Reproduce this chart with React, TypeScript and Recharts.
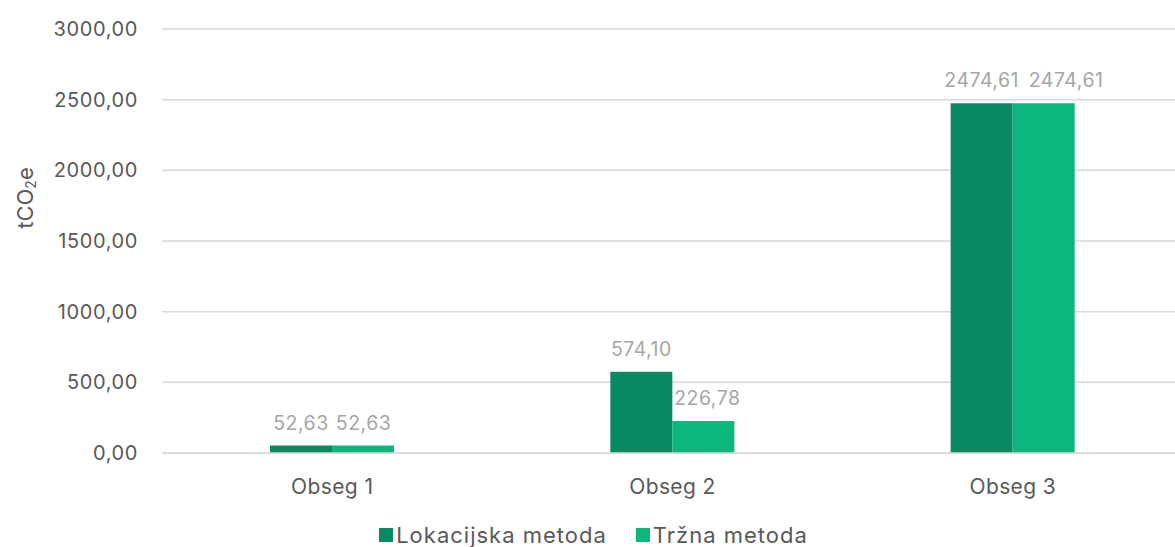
import React from 'react'
import { BarChart, Bar, XAxis, YAxis, CartesianGrid, Legend, LabelList } from 'recharts'

const categories = ['Obseg 1', 'Obseg 2', 'Obseg 3']
const lokacijska = [52.63, 574.1, 2474.61]
const trzna = [52.63, 226.78, 2474.61]
const yTicks = [0, 500, 1000, 1500, 2000, 2500, 3000]

const DARK = '#0a8a62'
const LIGHT = '#0db57f'
const FONT = 'Inter, "Open Sans", "Noto Sans", sans-serif'
const LABEL_SIZE = 19.5

const data = categories.map((name, i) => ({ name, lok: lokacijska[i], trz: trzna[i] }))

const fmt = (v: number) => v.toFixed(2).replace('.', ',')

// rough text width for the value labels, used to push overlapping labels apart
const textWidth = (s: string) => s.length * LABEL_SIZE * 0.56

function ValueLabel(props: any) {
  const { x, y, width, value, index, series } = props
  const text = fmt(Number(value))
  let cx = x + width / 2
  if (series === 'trz') {
    // Excel nudges the right label aside when it would collide with its neighbour
    const other = lokacijska[index]
    const near = Math.abs(other - Number(value)) < 150
    const need = textWidth(fmt(other)) / 2 + textWidth(text) / 2 + 8
    if (near && need > width) cx = x - width / 2 + need
    else if (!near) cx += 4
  }
  return (
    <text x={cx} y={y - 16} textAnchor="middle" fill="#a6a6a6" fontSize={LABEL_SIZE}
      fontFamily={FONT} letterSpacing={0.5}>
      {text}
    </text>
  )
}

function YTitle() {
  const x = 25
  const y = 198
  return (
    <text x={x} y={y} transform={`rotate(-90 ${x} ${y})`} textAnchor="middle" dominantBaseline="central"
      fill="#595959" fontSize={22} fontFamily={FONT}>
      tCO<tspan fontSize={14} dy={5}>2</tspan><tspan dy={-5}>e</tspan>
    </text>
  )
}

function LegendBox() {
  const items = [
    { label: 'Lokacijska metoda', color: DARK },
    { label: 'Tržna metoda', color: LIGHT },
  ]
  return (
    <div style={{ display: 'flex', justifyContent: 'center', alignItems: 'center', gap: 29, height: 34, paddingTop: 10, boxSizing: 'border-box', fontFamily: FONT, fontSize: 22, letterSpacing: 1, color: '#595959', paddingLeft: 12 }}>
      {items.map(it => (
        <span key={it.label} style={{ display: 'inline-flex', alignItems: 'center', gap: 3 }}>
          <span style={{ width: 14, height: 14, background: it.color, display: 'inline-block' }} />
          {it.label}
        </span>
      ))}
    </div>
  )
}

export default function App() {
  return (
    <div style={{ position: 'absolute', left: 0, top: 0, width: 1175, height: 547, overflow: 'hidden', background: '#fff' }}>
      <BarChart width={1183} height={547} data={data} barGap={0} barSize={62}
        margin={{ top: 29, right: 0, left: 0, bottom: 0 }}>
        <CartesianGrid vertical={false} stroke="#d9d9d9" strokeWidth={1.5} />
        <XAxis dataKey="name" height={60} tickLine={false} axisLine={{ stroke: '#d9d9d9', strokeWidth: 1.5 }}
          tickSize={0} tickMargin={26}
          tick={{ fill: '#595959', fontSize: 21, fontFamily: FONT, letterSpacing: 0.4 }} />
        <YAxis width={162} domain={[0, 3000]} ticks={yTicks} interval={0} tickLine={false} axisLine={false}
          tickSize={0} tickMargin={24} tickFormatter={fmt}
          tick={{ fill: '#595959', fontSize: 20, fontFamily: FONT, letterSpacing: 0.6 }}
          label={<YTitle />} />
        <Legend verticalAlign="bottom" content={<LegendBox />} wrapperStyle={{ left: 0, width: 1175, bottom: 0 }} />
        <Bar dataKey="lok" name="Lokacijska metoda" fill={DARK} isAnimationActive={false}>
          <LabelList dataKey="lok" content={(p: any) => <ValueLabel {...p} series="lok" />} />
        </Bar>
        <Bar dataKey="trz" name="Tržna metoda" fill={LIGHT} isAnimationActive={false}>
          <LabelList dataKey="trz" content={(p: any) => <ValueLabel {...p} series="trz" />} />
        </Bar>
      </BarChart>
    </div>
  )
}
